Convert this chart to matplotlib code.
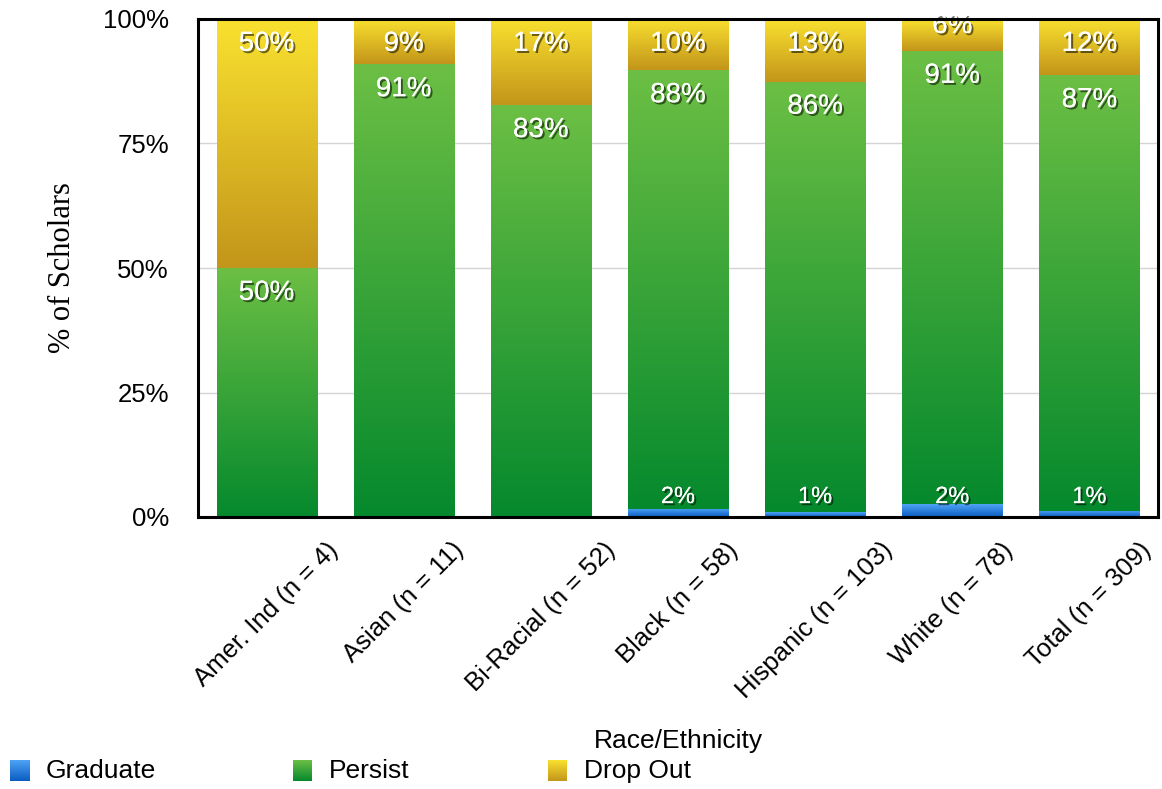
import numpy as np
import matplotlib
matplotlib.use('Agg')
import matplotlib.pyplot as plt
import matplotlib.patheffects as pe
from matplotlib.colors import LinearSegmentedColormap

plt.rcParams['font.family'] = ['Liberation Sans', 'DejaVu Sans']

# data (percent of scholars)
groups = ['Amer. Ind (n = 4)', 'Asian (n = 11)', 'Bi-Racial (n = 52)', 'Black (n = 58)',
          'Hispanic (n = 103)', 'White (n = 78)', 'Total (n = 309)']
graduate = [0, 0, 0, 1.7, 1.0, 2.6, 1.3]
persist = [50, 90.9, 82.7, 88.0, 86.4, 91.0, 87.4]
dropout = [50, 9.1, 17.3, 10.3, 12.6, 6.4, 11.3]
graduate_lbl = ['', '', '', '2%', '1%', '2%', '1%']
persist_lbl = ['50%', '91%', '83%', '88%', '86%', '91%', '87%']
dropout_lbl = ['50%', '9%', '17%', '10%', '13%', '6%', '12%']
series = ['Graduate', 'Persist', 'Drop Out']

# gradient colours (top, bottom)
grads = {
    'Graduate': ('#4ea4f5', '#0b5cc2'),
    'Persist': ('#6cbf44', '#05892d'),
    'Drop Out': ('#f9e12f', '#c3951a'),
}

fig = plt.figure(figsize=(11.62, 7.89), dpi=100)
ax = fig.add_axes([198/1162, 1-517/789, 960/1162, 498/789])

x = np.arange(len(groups))
w = 0.73
graduate = np.array(graduate)
persist = np.array(persist)
dropout = np.array(dropout)

b1 = ax.bar(x, graduate, w, color='none', zorder=2)
b2 = ax.bar(x, persist, w, bottom=graduate, color='none', zorder=2)
b3 = ax.bar(x, dropout, w, bottom=graduate + persist, color='none', zorder=2)

grad_img = np.linspace(1, 0, 256).reshape(-1, 1)
for bars, name in zip([b1, b2, b3], series):
    cmap = LinearSegmentedColormap.from_list(name, [grads[name][1], grads[name][0]])
    for p in bars:
        bb = p.get_bbox()
        if bb.height <= 0:
            continue
        ax.imshow(grad_img, cmap=cmap, extent=[bb.x0, bb.x1, bb.y0, bb.y1],
                  aspect='auto', zorder=2, interpolation='bilinear')

ax.set_xlim(-0.5, 6.5)
ax.set_ylim(0, 100)

# labels
shadow = [pe.withSimplePatchShadow(offset=(1.5, -1.5), shadow_rgbFace='black', alpha=0.55), pe.Normal()]
lbl_kw = dict(ha='center', va='center', color='white', fontsize=20, zorder=4, path_effects=shadow)
for i in range(len(groups)):
    top = graduate[i] + persist[i] + dropout[i]
    off = 5 if dropout[i] >= 8 else dropout[i] * 0.22
    ax.text(x[i], top - off, dropout_lbl[i], **lbl_kw)
    ax.text(x[i], graduate[i] + persist[i] - 5, persist_lbl[i], **lbl_kw)
    if graduate_lbl[i]:
        ax.text(x[i], 4, graduate_lbl[i], **dict(lbl_kw, fontsize=17))

ax.set_yticks([0, 25, 50, 75, 100])
ax.set_yticklabels(['0%', '25%', '50%', '75%', '100%'], fontsize=18.5)
ax.set_xticks(x)
ax.set_xticklabels(groups, rotation=45, fontsize=18.5)
ax.tick_params(axis='y', length=0, pad=21)
ax.tick_params(axis='x', length=0, pad=15)
ax.yaxis.grid(True, color='#d4d4d4', lw=1, zorder=0)
ax.set_axisbelow(True)
for s in ax.spines.values():
    s.set_linewidth(2.2)
    s.set_color('black')
    s.set_zorder(5)

ax.set_ylabel('% of Scholars', family=['Liberation Serif', 'DejaVu Serif'], fontsize=22)
ax.yaxis.set_label_coords(-0.126, 0.5)
fig.text(678/1162, 1-741/789, 'Race/Ethnicity', ha='center', va='center', fontsize=19)

# legend with gradient swatches
leg_x = [10, 293, 548]
for lx, name in zip(leg_x, series):
    sax = fig.add_axes([lx/1162, 1-781/789, 19/1162, 21/789])
    cmap = LinearSegmentedColormap.from_list(name + 'l', [grads[name][1], grads[name][0]])
    sax.imshow(grad_img, cmap=cmap, aspect='auto', interpolation='bilinear')
    sax.axis('off')
    fig.text((lx + 36)/1162, 1-771/789, name, ha='left', va='center', fontsize=19)

fig.savefig('out.png', dpi=100)
